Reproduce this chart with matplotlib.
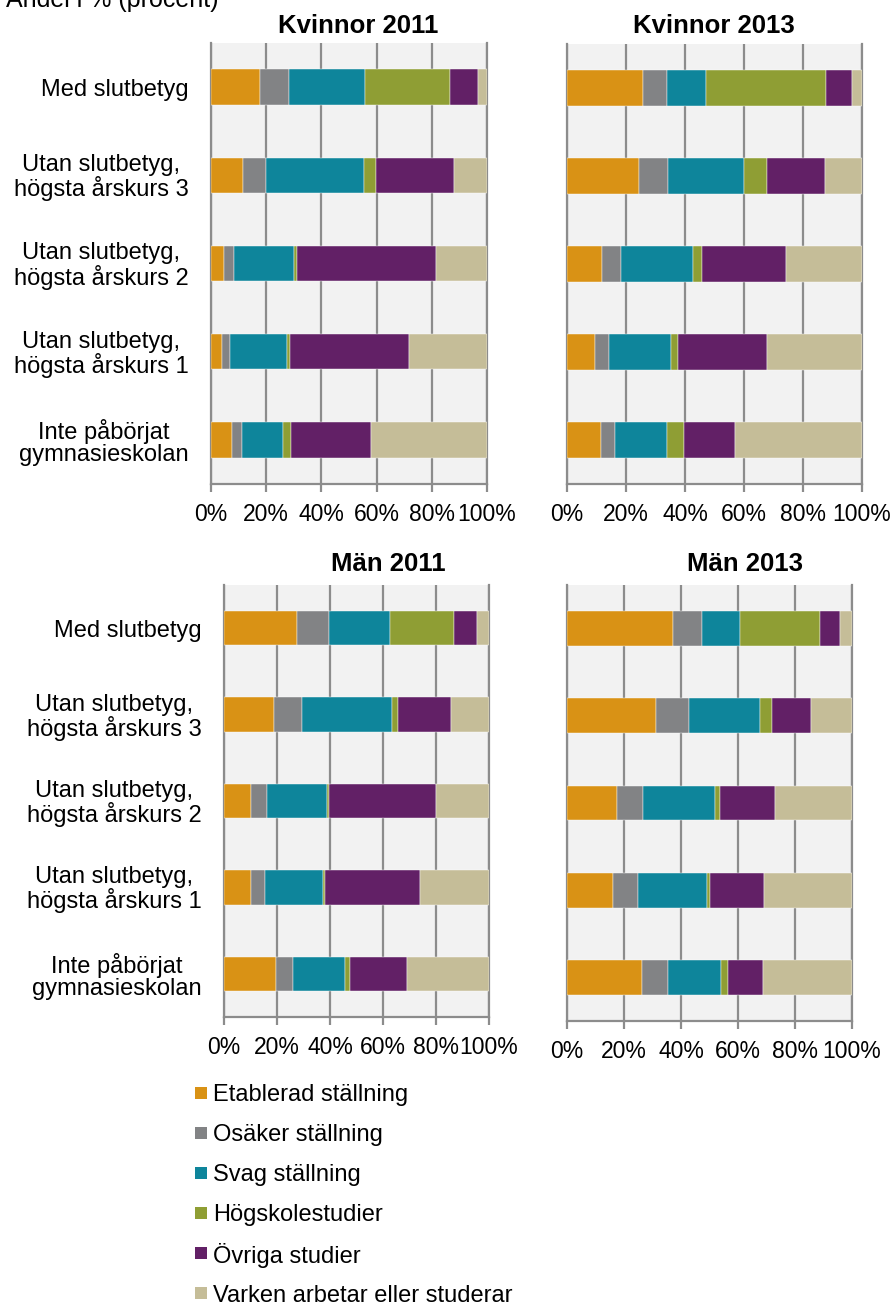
import matplotlib
matplotlib.use("Agg")
import matplotlib.pyplot as plt
from matplotlib.patches import Rectangle
import numpy as np

plt.rcParams['font.family'] = ['Liberation Sans', 'DejaVu Sans']

# ---------------- data ----------------
categories = [
    "Med slutbetyg",
    "Utan slutbetyg,\nhögsta årskurs 3",
    "Utan slutbetyg,\nhögsta årskurs 2",
    "Utan slutbetyg,\nhögsta årskurs 1",
    "Inte påbörjat\ngymnasieskolan",
]
series_names = [
    "Etablerad ställning",
    "Osäker ställning",
    "Svag ställning",
    "Högskolestudier",
    "Övriga studier",
    "Varken arbetar eller studerar",
]
series_colors = ["#D99215", "#828385", "#0E859B", "#8F9E34", "#622066", "#C5BD98"]

xtick_values = [0, 20, 40, 60, 80, 100]
xtick_labels = ["0%", "20%", "40%", "60%", "80%", "100%"]

# rows = series (order as series_names), columns = categories (order as categories)
kvinnor_2011 = [
    [17.8, 11.7, 4.8, 4.0, 7.5],
    [10.3, 8.3, 3.7, 2.8, 3.9],
    [27.8, 35.3, 21.4, 20.8, 14.7],
    [30.8, 4.4, 1.2, 0.9, 3.0],
    [9.9, 28.2, 50.3, 43.1, 28.8],
    [3.4, 12.1, 18.6, 28.4, 42.1],
]
kvinnor_2013 = [
    [25.9, 24.3, 12.0, 9.4, 11.6],
    [8.0, 9.9, 6.3, 4.8, 4.7],
    [13.3, 25.7, 24.4, 20.9, 17.5],
    [40.6, 7.9, 2.9, 2.5, 6.0],
    [8.9, 19.5, 28.8, 30.3, 17.3],
    [3.3, 12.7, 25.6, 32.1, 42.9],
]
man_2011 = [
    [27.7, 18.7, 10.3, 10.3, 19.7],
    [11.8, 10.7, 5.8, 5.3, 6.3],
    [23.1, 34.0, 22.9, 21.9, 19.7],
    [24.1, 2.3, 0.5, 0.6, 1.8],
    [8.9, 20.1, 40.6, 35.9, 21.6],
    [4.4, 14.2, 19.9, 26.0, 30.9],
]
man_2013 = [
    [37.1, 31.2, 17.4, 16.0, 26.3],
    [10.2, 11.5, 9.3, 8.9, 9.1],
    [13.5, 25.1, 25.2, 24.2, 18.7],
    [28.1, 4.1, 1.7, 1.1, 2.5],
    [6.8, 13.7, 19.4, 18.8, 12.1],
    [4.3, 14.4, 27.0, 31.0, 31.3],
]

panel_titles = ["Kvinnor 2011", "Kvinnor 2013", "Män 2011", "Män 2013"]
panel_data = [kvinnor_2011, kvinnor_2013, man_2011, man_2013]

# ---------------- layout ----------------
W, H = 894, 1306
fig = plt.figure(figsize=(W / 100, H / 100), dpi=100)

def px_axes(x0, x1, y0, y1):
    return fig.add_axes([x0 / W, 1 - y1 / H, (x1 - x0) / W, (y1 - y0) / H])

boxes = [(211, 487, 43, 484), (567, 862, 44, 484), (224, 489, 585, 1017), (567, 852, 585, 1021)]
title_pos = [(358, 26), (714, 26), (388, 564), (745, 564)]
show_labels = [True, False, True, False]

grid_col = "#8C8C8C"
for box, data, title, tpos, lab in zip(boxes, panel_data, panel_titles, title_pos, show_labels):
    ax = px_axes(*box)
    ax.set_facecolor("#F2F2F2")
    ypos = np.arange(len(categories))
    left = np.zeros(len(categories))
    for vals, col in zip(data, series_colors):
        vals = np.array(vals)
        ax.barh(ypos, vals, left=left, height=0.4, color=col,
                edgecolor="#FFFFFF", linewidth=0.3, zorder=3)
        left += vals
    ax.set_xlim(0, 100)
    ax.set_ylim(len(categories) - 0.5, -0.5)
    ax.set_xticks(xtick_values)
    ax.set_xticklabels(xtick_labels, fontsize=16.5, color="#000000")
    ax.grid(axis="x", color=grid_col, linewidth=1.6, zorder=1)
    ax.set_axisbelow(True)
    ax.spines["top"].set_visible(False)
    for s in ["left", "right", "bottom"]:
        ax.spines[s].set_color(grid_col)
        ax.spines[s].set_linewidth(1.6)
    ax.tick_params(axis="x", length=6, width=1.6, color=grid_col, pad=8)
    ax.set_yticks(ypos)
    if lab:
        ax.set_yticklabels(categories, fontsize=17, linespacing=1.0)
        for t in ax.get_yticklabels():
            t.set_multialignment("center")
        ax.tick_params(axis="y", length=0, pad=16)
    else:
        ax.set_yticklabels([])
        ax.tick_params(axis="y", length=0)
    fig.text(tpos[0] / W, 1 - tpos[1] / H, title, ha="center", va="center",
             fontsize=18.5, fontweight="bold")

fig.text(6 / W, 1 - 7 / H, "Andel i % (procent)", ha="left", va="baseline", fontsize=18)

# legend: one row per series, evenly spaced
leg_x, leg_y0, leg_dy, sq = 195, 1093, 40, 12
for i, (name, col) in enumerate(zip(series_names, series_colors)):
    yc = leg_y0 + i * leg_dy
    fig.patches.append(Rectangle((leg_x / W, 1 - (yc + sq / 2) / H), sq / W, sq / H,
                                 transform=fig.transFigure, facecolor=col,
                                 edgecolor="none"))
    fig.text((leg_x + sq + 6) / W, 1 - yc / H, name, ha="left", va="center_baseline",
             fontsize=17)

fig.savefig("out.png", dpi=100, facecolor="white")
